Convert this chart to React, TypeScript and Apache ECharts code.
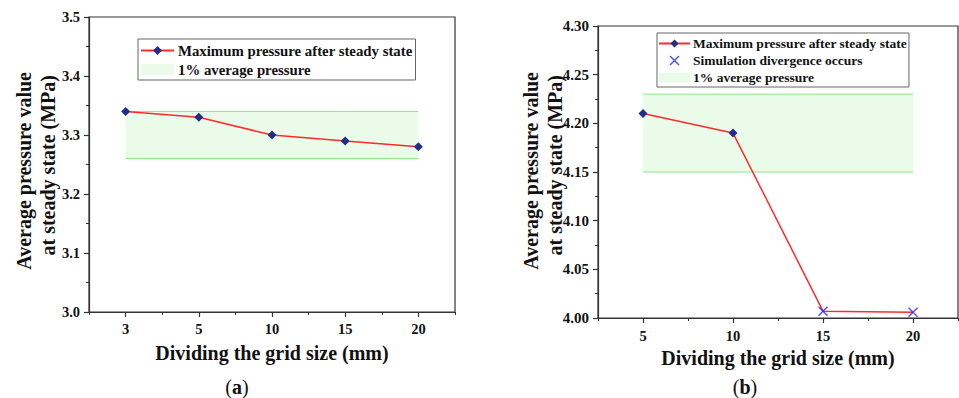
import React, { useEffect, useRef } from 'react';
import * as echarts from 'echarts';

// ---------- data (a) ----------
const sizesA = ['3', '5', '10', '15', '20'];
const maxPressureA = [3.34, 3.33, 3.3, 3.29, 3.28];
const bandA = [3.26, 3.34]; // 1% average pressure band (low, high)
const yRangeA = [3.0, 3.5];
const yStepA = 0.1;

// ---------- data (b) ----------
const sizesB = ['5', '10', '15', '20'];
const maxPressureB = [4.21, 4.19, 4.007, 4.006];
const divergedB = [false, false, true, true];
const bandB = [4.15, 4.23];
const yRangeB = [4.0, 4.3];
const yStepB = 0.05;

const NAME_MAX = 'Maximum pressure after steady state';
const NAME_DIV = 'Simulation divergence occurs';
const NAME_BAND = '1% average pressure';
const X_TITLE = 'Dividing the grid size (mm)';
const Y_TITLE_1 = 'Average pressure value';
const Y_TITLE_2 = 'at steady state (MPa)';

const SERIF = 'Liberation Serif';
const AXIS_COLOR = '#333';
const TEXT_COLOR = '#111';
const RED = '#ff2a2a';
const NAVY = '#1f2d8c';
const BLUE = '#2020ff';
const BAND_FILL = '#eafbea';
const BAND_EDGE = '#86e886';
const X_SYMBOL = 'path://M0,1L1,0L5,4L9,0L10,1L6,5L10,9L9,10L5,6L1,10L0,9L4,5Z';

function xAxes(grid: number, cats: string[], labelMargin: number, nameGap: number) {
  return [
    {
      type: 'category', gridIndex: grid, data: cats, position: 'bottom', boundaryGap: true,
      axisLine: { show: true, lineStyle: { color: AXIS_COLOR, width: 1.2 } },
      axisTick: { show: true, alignWithLabel: true, length: 5, lineStyle: { color: AXIS_COLOR, width: 1.2 } },
      axisLabel: { margin: labelMargin, fontSize: 14.5, fontWeight: 'bold', fontFamily: SERIF, color: TEXT_COLOR },
      splitLine: { show: false },
      name: X_TITLE, nameLocation: 'middle', nameGap,
      nameTextStyle: { fontSize: 20, fontWeight: 'bold', fontFamily: SERIF, color: TEXT_COLOR },
    },
    {
      type: 'category', gridIndex: grid, data: cats, position: 'bottom', boundaryGap: true,
      axisLine: { show: false },
      axisTick: { show: true, alignWithLabel: false, length: 3, lineStyle: { color: AXIS_COLOR, width: 1 } },
      axisLabel: { show: false },
      splitLine: { show: false },
    },
  ];
}

function yAxis(grid: number, range: number[], step: number, decimals: number, fontSize: number) {
  return {
    type: 'value', gridIndex: grid, min: range[0], max: range[1], interval: step,
    axisLine: { show: true, lineStyle: { color: AXIS_COLOR, width: 1.2 } },
    axisTick: { show: true, length: 5, lineStyle: { color: AXIS_COLOR, width: 1.2 } },
    minorTick: { show: true, splitNumber: 2, length: 3, lineStyle: { color: AXIS_COLOR, width: 1 } },
    splitLine: { show: false },
    axisLabel: {
      margin: 9, fontSize, fontWeight: 'bold', fontFamily: SERIF, color: TEXT_COLOR,
      formatter: (v: number) => v.toFixed(decimals),
    },
  };
}

function bandSeries(cats: string[], band: number[], xIdx: number, yIdx: number, suffix: string) {
  const edge = { color: BAND_EDGE, width: 1 };
  return [
    {
      type: 'line', name: NAME_BAND, xAxisIndex: xIdx, yAxisIndex: yIdx,
      data: cats.map(() => band[1]), symbol: 'none', lineStyle: edge,
      itemStyle: { color: BAND_FILL }, z: 1, silent: true,
      markArea: {
        silent: true, itemStyle: { color: BAND_FILL, borderWidth: 0 },
        data: [[{ xAxis: cats[0], yAxis: band[1] }, { xAxis: cats[cats.length - 1], yAxis: band[0] }]],
      },
    },
    {
      type: 'line', name: 'bandLow' + suffix, xAxisIndex: xIdx, yAxisIndex: yIdx,
      data: cats.map(() => band[0]), symbol: 'none', lineStyle: edge, z: 1, silent: true,
    },
  ];
}

function yTitle(x: number, y: number, text: string) {
  return {
    type: 'text', x, y, rotation: Math.PI / 2,
    style: {
      text, fontSize: 20, fontWeight: 'bold', fontFamily: SERIF, fill: TEXT_COLOR,
      textAlign: 'right', textVerticalAlign: 'middle', align: 'right', verticalAlign: 'middle',
    },
  };
}

function caption(x: number, y: number, letter: string) {
  return {
    type: 'text', x, y,
    style: {
      text: `{p|(}{l|${letter}}{p|)}`,
      rich: {
        p: { fontSize: 20, fontFamily: SERIF, fill: TEXT_COLOR, color: TEXT_COLOR },
        l: { fontSize: 20, fontFamily: SERIF, fontWeight: 'bold', fill: TEXT_COLOR, color: TEXT_COLOR },
      },
      textAlign: 'center', textVerticalAlign: 'middle', align: 'center', verticalAlign: 'middle',
    },
  };
}

export default function App() {
  const ref = useRef<HTMLDivElement>(null);
  useEffect(() => {
    if (!ref.current) return;
    const chart = echarts.init(ref.current, null, { renderer: 'svg' });
    const option = {
      animation: false,
      backgroundColor: '#fff',
      textStyle: { fontFamily: SERIF },
      grid: [
        { left: 89, top: 17, width: 366, height: 295, show: true, borderColor: AXIS_COLOR, borderWidth: 1.2, backgroundColor: 'transparent' },
        { left: 598, top: 26, width: 360, height: 292, show: true, borderColor: AXIS_COLOR, borderWidth: 1.2, backgroundColor: 'transparent' },
      ],
      xAxis: [...xAxes(0, sizesA, 9, 31), ...xAxes(1, sizesB, 10, 29)],
      yAxis: [yAxis(0, yRangeA, yStepA, 1, 14.5), yAxis(1, yRangeB, yStepB, 2, 15)],
      legend: [
        {
          left: 138, top: 39, orient: 'vertical',
          data: [NAME_MAX, { name: NAME_BAND, icon: 'rect', itemStyle: { color: BAND_FILL } }],
          itemWidth: 33, itemHeight: 11, itemGap: 2, padding: [3, 3, 2, 2],
          borderColor: '#666', borderWidth: 1, selectedMode: false,
          textStyle: { fontSize: 14.8, fontWeight: 'bold', fontFamily: SERIF, color: TEXT_COLOR, lineHeight: 17, padding: [0, 0, 0, -1] },
        },
        {
          left: 657, top: 33, orient: 'vertical',
          data: [NAME_MAX, NAME_DIV, { name: NAME_BAND, icon: 'rect', itemStyle: { color: BAND_FILL } }],
          itemWidth: 31, itemHeight: 10, itemGap: 2, padding: [3, 2, 2, 1],
          borderColor: '#666', borderWidth: 1, selectedMode: false,
          textStyle: { fontSize: 13.5, fontWeight: 'bold', fontFamily: SERIF, color: TEXT_COLOR, lineHeight: 15, padding: [0, 0, 0, -2] },
        },
      ],
      graphic: [
        yTitle(24, 72, Y_TITLE_1),
        yTitle(48, 75, Y_TITLE_2),
        yTitle(531, 72, Y_TITLE_1),
        yTitle(555, 75, Y_TITLE_2),
        caption(237, 387, 'a'),
        caption(745, 387, 'b'),
      ],
      series: [
        ...bandSeries(sizesA, bandA, 0, 0, 'A'),
        {
          type: 'line', name: NAME_MAX, xAxisIndex: 0, yAxisIndex: 0, data: maxPressureA,
          symbol: 'diamond', symbolSize: 9, z: 5,
          itemStyle: { color: NAVY }, lineStyle: { color: RED, width: 1.5 },
        },
        ...bandSeries(sizesB, bandB, 2, 1, 'B'),
        {
          type: 'line', name: NAME_MAX, xAxisIndex: 2, yAxisIndex: 1,
          data: maxPressureB.map((v, i) => (divergedB[i] ? { value: v, symbol: 'none' } : v)),
          symbol: 'diamond', symbolSize: 9, z: 5,
          itemStyle: { color: NAVY }, lineStyle: { color: RED, width: 1.5 },
        },
        {
          type: 'scatter', name: NAME_DIV, xAxisIndex: 2, yAxisIndex: 1,
          data: maxPressureB.map((v, i) => (divergedB[i] ? v : '-')),
          symbol: X_SYMBOL, symbolSize: 10, z: 6,
          itemStyle: { color: BLUE },
        },
      ],
    };
    chart.setOption(option as any);
    return () => chart.dispose();
  }, []);
  return (
    <div
      ref={ref}
      style={{ position: 'fixed', left: 0, top: 0, width: 959, height: 398, background: '#fff' }}
    />
  );
}
